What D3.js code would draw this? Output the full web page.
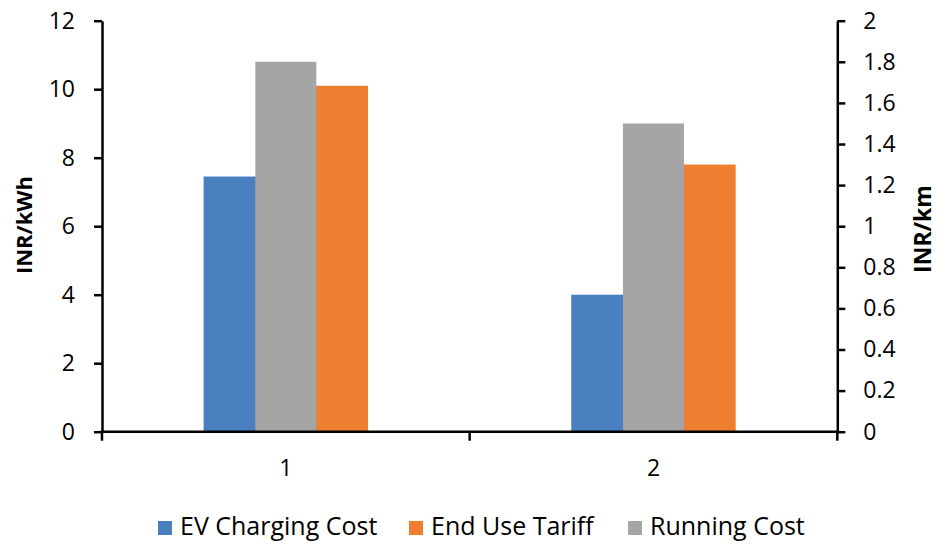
<!DOCTYPE html>
<html>
<head>
<meta charset="utf-8">
<script src="https://cdn.jsdelivr.net/npm/d3@7"></script>
<style>
  body { margin: 0; background: #fff; }
  svg text { font-family: "Open Sans", Lato, sans-serif; fill: #000; }
</style>
</head>
<body>
<svg width="938" height="546"></svg>
<script>
// chart data
var categories = ["1", "2"];
var evChargingCost = [7.45, 4.0];   // INR/kWh, left axis
var endUseTariff = [10.1, 7.8];      // INR/kWh, left axis
var runningCost = [1.8, 1.5];        // INR/km, right axis
var leftTicks = [0, 2, 4, 6, 8, 10, 12];
var legendItems = ["EV Charging Cost", "End Use Tariff", "Running Cost"];

var colors = {
  "EV Charging Cost": "#4a80bf",
  "End Use Tariff": "#ee7f31",
  "Running Cost": "#a5a5a5"
};

var svg = d3.select("svg");

// plot area edges (note: "top" is reserved on window, so use plot* names)
var plotLeft = 102, plotRight = 837.3, plotTop = 20.7, plotBottom = 431.7;
var fontSize = 23;

// scales
var x = d3.scaleBand().domain(categories).range([plotLeft, plotRight]);

// primary series sit in 3 slots, the middle one left empty for the secondary series
var xPrimary = d3.scaleBand()
    .domain(["EV Charging Cost", "_", "End Use Tariff"])
    .range([0, x.bandwidth()])
    .paddingOuter(1.854);

// secondary axis series has its own gap width
var xSecondary = d3.scaleBand()
    .domain(["Running Cost"])
    .range([0, x.bandwidth()])
    .paddingOuter(2.513);

var yLeft = d3.scaleLinear().domain([0, 12]).range([plotBottom, plotTop]);
var yRight = d3.scaleLinear().domain([0, 2]).range([plotBottom, plotTop]);

// primary bars
var primary = [
  { key: "EV Charging Cost", values: evChargingCost },
  { key: "End Use Tariff", values: endUseTariff }
];

primary.forEach(function(s) {
  svg.append("g").selectAll("rect")
    .data(s.values)
    .enter().append("rect")
      .attr("x", function(d, i) { return x(categories[i]) + xPrimary(s.key); })
      .attr("width", xPrimary.bandwidth())
      .attr("y", function(d) { return yLeft(d); })
      .attr("height", function(d) { return plotBottom - yLeft(d); })
      .attr("fill", colors[s.key]);
});

// secondary bars drawn on top
svg.append("g").selectAll("rect")
  .data(runningCost)
  .enter().append("rect")
    .attr("x", function(d, i) { return x(categories[i]) + xSecondary("Running Cost"); })
    .attr("width", xSecondary.bandwidth())
    .attr("y", function(d) { return yRight(d); })
    .attr("height", function(d) { return plotBottom - yRight(d); })
    .attr("fill", colors["Running Cost"]);

// left axis
var gLeft = svg.append("g")
    .attr("transform", "translate(" + plotLeft + ",0)")
    .call(d3.axisLeft(yLeft).tickValues(leftTicks).tickSize(8).tickPadding(19).tickSizeOuter(0));

// right axis
var gRight = svg.append("g")
    .attr("transform", "translate(" + plotRight + ",0)")
    .call(d3.axisRight(yRight).ticks(10).tickSize(8).tickPadding(18).tickSizeOuter(0)
      .tickFormat(d3.format("~g")));

[gLeft, gRight].forEach(function(g) {
  g.select(".domain").attr("stroke", "#000").attr("stroke-width", 2.5);
  g.selectAll(".tick line").attr("stroke", "#000").attr("stroke-width", 2.5);
  g.selectAll(".tick text")
    .attr("font-size", fontSize)
    .attr("font-family", "'Open Sans', sans-serif")
    .attr("fill", "#000");
});

// bottom axis
var gBottom = svg.append("g");
gBottom.append("line")
    .attr("x1", plotLeft - 1.25).attr("x2", plotRight + 1.25)
    .attr("y1", plotBottom).attr("y2", plotBottom)
    .attr("stroke", "#000").attr("stroke-width", 2.5);

var boundaries = categories.map(function(c) { return x(c); }).concat([x.range()[1]]);
gBottom.selectAll(".btick")
  .data(boundaries)
  .enter().append("line")
    .attr("class", "btick")
    .attr("x1", function(d) { return d; }).attr("x2", function(d) { return d; })
    .attr("y1", plotBottom).attr("y2", plotBottom + 9)
    .attr("stroke", "#000").attr("stroke-width", 2.5);

gBottom.selectAll(".blabel")
  .data(categories)
  .enter().append("text")
    .attr("class", "blabel")
    .attr("x", function(d) { return x(d) + x.bandwidth() / 2; })
    .attr("y", 476)
    .attr("text-anchor", "middle")
    .attr("font-size", fontSize)
    .text(function(d) { return d; });

// axis titles
svg.append("text")
    .attr("transform", "translate(32,225) rotate(-90)")
    .attr("text-anchor", "middle")
    .attr("font-size", 22)
    .attr("font-weight", "bold")
    .text("INR/kWh");

svg.append("text")
    .attr("transform", "translate(931,229) rotate(-90)")
    .attr("text-anchor", "middle")
    .attr("font-size", 23)
    .attr("font-weight", "bold")
    .text("INR/km");

// legend
var legendX = [158, 409, 628];
var legend = svg.append("g").selectAll("g")
  .data(legendItems)
  .enter().append("g")
    .attr("transform", function(d, i) { return "translate(" + legendX[i] + ",521)"; });

legend.append("rect")
    .attr("width", 14).attr("height", 14)
    .attr("fill", function(d) { return colors[d]; });

legend.append("text")
    .attr("x", 22)
    .attr("y", 14)
    .attr("font-size", 25)
    .text(function(d) { return d; });
</script>
</body>
</html>
